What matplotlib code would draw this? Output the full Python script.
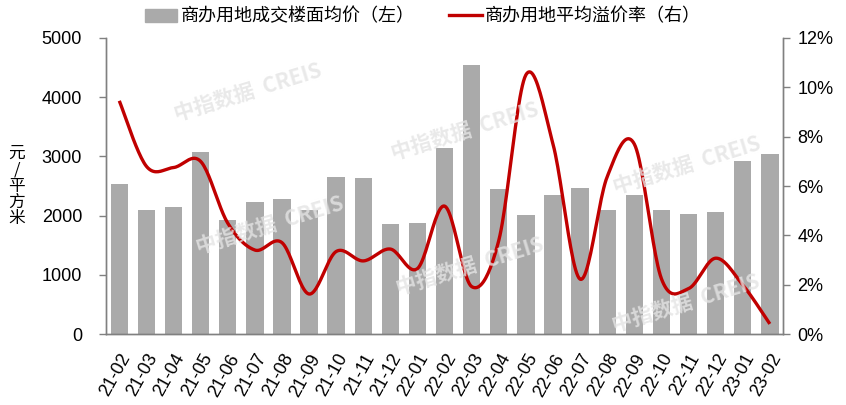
import numpy as np
import matplotlib
matplotlib.use("Agg")
import matplotlib.pyplot as plt
from matplotlib.patches import Patch
from matplotlib.lines import Line2D

plt.rcParams["font.family"] = ["Liberation Sans", "Noto Sans CJK SC", "DejaVu Sans"]

# ── data ──────────────────────────────────────────────────────────────────────
months = ["21-02", "21-03", "21-04", "21-05", "21-06", "21-07", "21-08", "21-09",
          "21-10", "21-11", "21-12", "22-01", "22-02", "22-03", "22-04", "22-05",
          "22-06", "22-07", "22-08", "22-09", "22-10", "22-11", "22-12", "23-01",
          "23-02"]
avg_price = [2535, 2096, 2141, 3080, 1922, 2231, 2282, 2096, 2653, 2630, 1860,
             1872, 3147, 4541, 2445, 2007, 2354, 2472, 2091, 2354, 2096, 2029,
             2062, 2922, 3035]
premium_rate = [9.45, 6.8, 6.75, 7.0, 4.5, 3.41, 3.71, 1.63, 3.35, 2.97, 3.45,
                2.66, 5.19, 1.93, 3.8, 10.5, 7.7, 2.23, 6.38, 7.7, 2.25, 1.85,
                3.08, 2.0, 0.42]

label_price = "商办用地成交楼面均价（左）"
label_rate = "商办用地平均溢价率（右）"
BAR_C = "#AAAAAA"
LINE_C = "#C00000"
AXIS_C = "#808080"


def smooth(x, y, n=24):
    """Catmull-Rom curve through the points (like Excel's smoothed line)."""
    p = np.column_stack([x, y]).astype(float)
    p = np.vstack([p[0], p, p[-1]])
    t = np.linspace(0, 1, n)[:, None]
    out = []
    for i in range(1, len(p) - 2):
        p0, p1, p2, p3 = p[i - 1], p[i], p[i + 1], p[i + 2]
        seg = 0.5 * ((2 * p1) + (-p0 + p2) * t + (2 * p0 - 5 * p1 + 4 * p2 - p3) * t ** 2
                     + (-p0 + 3 * p1 - 3 * p2 + p3) * t ** 3)
        out.append(seg if i == 1 else seg[1:])
    out = np.vstack(out)
    return out[:, 0], out[:, 1]


# ── figure ────────────────────────────────────────────────────────────────────
fig = plt.figure(figsize=(8.46, 4.05), dpi=100)
ax = fig.add_axes([0.125, 0.1746, 0.801, 0.732])
ax2 = ax.twinx()

x = np.arange(len(months))
ax.bar(x, avg_price, width=0.64, color=BAR_C, zorder=2)
sx, sy = smooth(x, premium_rate)
ax2.plot(sx, sy, color=LINE_C, lw=2.4, solid_capstyle="butt", zorder=3)

ax.set_xlim(-0.5, len(months) - 0.5)
ax.set_ylim(0, 5000)
ax.set_yticks(range(0, 5001, 1000))
ax2.set_ylim(0, 12)
ax2.set_yticks(range(0, 13, 2))
ax2.set_yticklabels([f"{v}%" for v in range(0, 13, 2)])

ax.set_xticks(x)
ax.set_xticklabels(months, rotation=61, ha="right", rotation_mode="anchor")

for a in (ax, ax2):
    a.spines["top"].set_visible(False)
    for s in ("left", "right", "bottom"):
        a.spines[s].set_color(AXIS_C)
        a.spines[s].set_linewidth(1.0)
    a.tick_params(axis="y", length=5, width=1.0, color=AXIS_C, labelsize=13)
ax.tick_params(axis="y", pad=12)
ax2.tick_params(axis="y", pad=5)
ax.tick_params(axis="x", length=0, labelsize=13, pad=12)
ax.set_zorder(ax2.get_zorder() - 1)
ax.patch.set_visible(False)

fig.text(0.02, 0.54, "元\n/\n平\n方\n米", ha="center", va="center",
         fontsize=12, linespacing=0.95, family=["Noto Sans CJK SC"])

handles = [Patch(color=BAR_C), Line2D([], [], color=LINE_C, lw=2.4)]
fig.legend(handles, [label_price, label_rate], loc="upper center",
           bbox_to_anchor=(0.5, 1.02), ncol=2, frameon=False, fontsize=13,
           handlelength=1.8, handletextpad=0.2, columnspacing=1.9)

# faint watermarks
marks = [(248, 92), (465, 131), (687, 165), (270, 225), (470, 266), (686, 303)]
for px, py in marks:
    fig.text(px / 846, 1 - py / 405, "中指数据  CREIS", ha="center", va="center",
             rotation=17, fontsize=15, fontweight="bold", color="#E4E4E4",
             alpha=0.8, family=["Noto Sans CJK SC"], zorder=10)

fig.savefig("out.png", dpi=100)
